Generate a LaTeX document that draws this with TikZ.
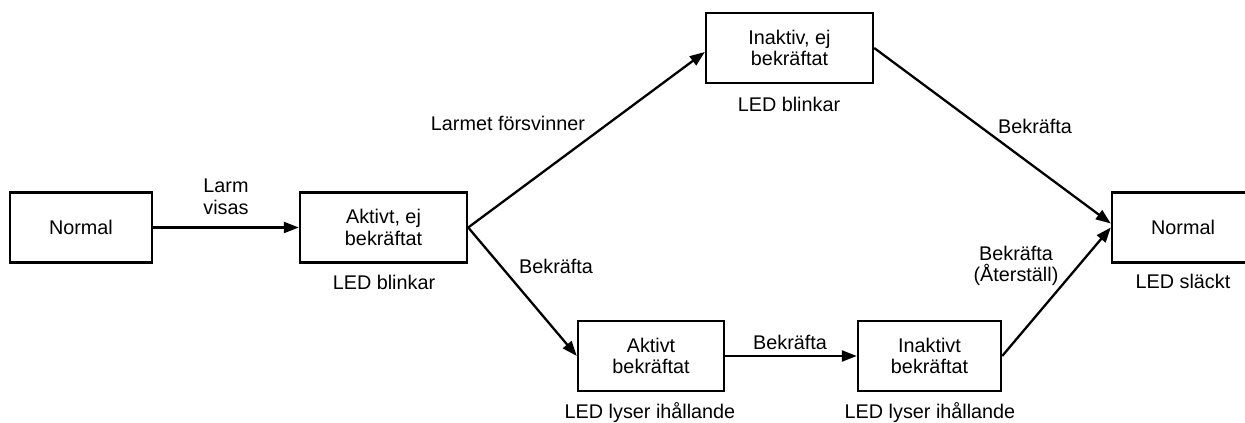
\documentclass[tikz,border=0pt]{standalone}
\usepackage{fontspec}
\setmainfont{Liberation Sans}
\usetikzlibrary{arrows.meta}
\begin{document}
\begin{tikzpicture}[x=1pt,y=-1pt,
  font=\fontsize{19.8}{21.5}\selectfont,
  state/.style={draw=black,line width=2.4pt,rectangle,inner sep=0pt,align=center,minimum height=70pt},
  lbl/.style={inner sep=0pt,align=center},
  conn/.style={line width=2.3pt,-{Triangle[length=15pt,width=11pt]}}]
\useasboundingbox (0,0) rectangle (1245,423);
\begin{scope}
\clip (0,0) rectangle (1245,423);
\node[state,minimum width=142pt] (n1) at (81,227.5) {Normal};
\node[state,minimum width=167pt] (a1) at (383.5,227.5) {Aktivt, ej\\bekräftat};
\node[state,minimum width=167pt] (i1) at (789.5,48) {Inaktiv, ej\\bekräftat};
\node[state,minimum width=146pt] (ab) at (651,356) {Aktivt\\bekräftat};
\node[state,minimum width=143pt] (ib) at (929.5,356) {Inaktivt\\bekräftat};
\node[state,minimum width=142pt] (n2) at (1183,227.5) {Normal};

\node[lbl] (l1) at (384,282) {LED blinkar};
\node[lbl] (l2) at (789,104) {LED blinkar};
\node[lbl] (l3) at (650,413) {LED lyser ihållande};
\node[lbl] (l4) at (930,413) {LED lyser ihållande};
\node[lbl] (l5) at (1183,281) {LED släckt};

\draw[conn] (n1.east) -- (a1.west) node[lbl,midway,above=12pt] (t1) {Larm\\visas};
\draw[conn] (a1.east) -- ([yshift=-4pt]i1.west);
\node[lbl] (t2) at (508,123) {Larmet försvinner};
\draw[conn] (a1.east) -- (ab.west);
\node[lbl] (t3) at (556,266) {Bekräfta};
\draw[conn] (ab.east) -- (ib.west);
\node[lbl] (t4) at (790,342) {Bekräfta};
\draw[conn] (i1.east) -- ([yshift=4pt]n2.west);
\node[lbl] (t5) at (1035,126) {Bekräfta};
\draw[conn] (ib.east) -- (n2.west);
\node[lbl] (t6) at (1016,266) {Bekräfta\\(Återställ)};
\end{scope}
\end{tikzpicture}
\end{document}
